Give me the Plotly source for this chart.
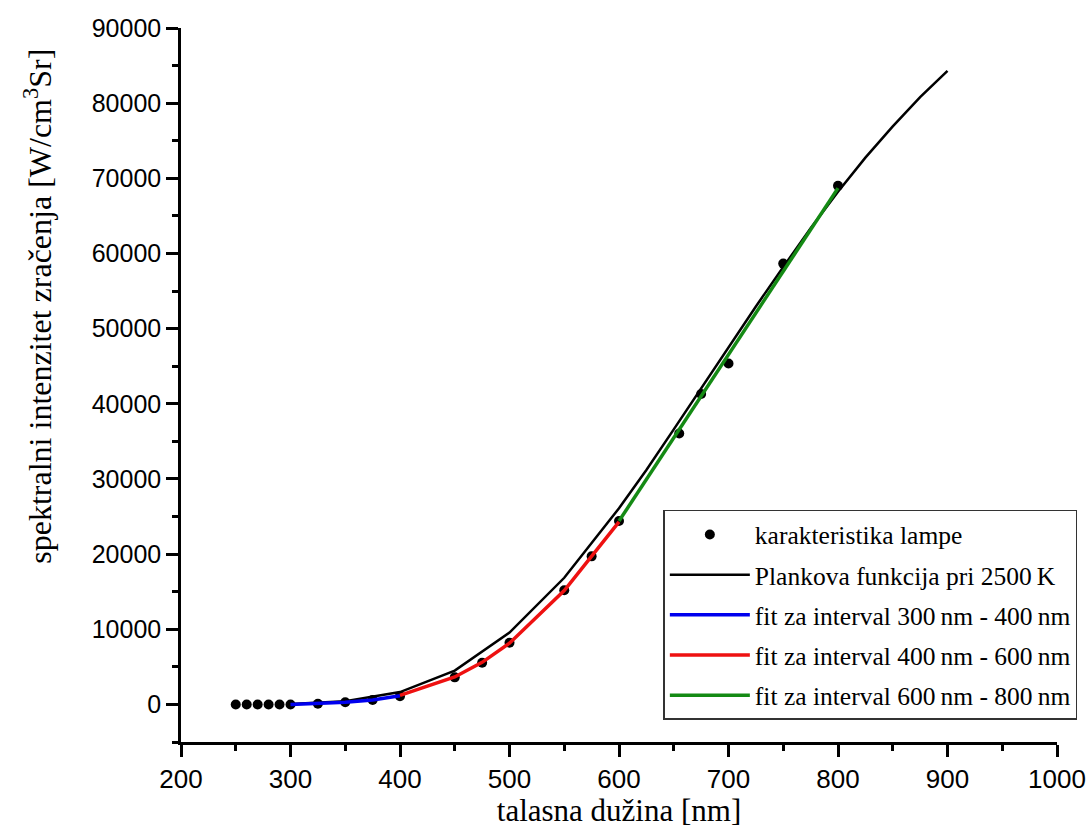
import plotly.graph_objects as go

# Measured lamp characteristic (points)
lamp_x = [250, 260, 270, 280, 290, 300, 325, 350, 375, 400, 450, 475, 500, 550, 575, 600, 655, 675, 700, 750, 800]
lamp_y = [0, 0, 0, 0, 0, 0, 100, 300, 600, 1100, 3600, 5550, 8200, 15200, 19700, 24400, 36050, 41300, 45350, 58650, 69000]

# Planck function at 2500 K
planck_x = [300, 350, 400, 450, 500, 550, 600, 625, 650, 675, 700, 725, 750, 775, 800, 825, 850, 875, 900]
planck_y = [60, 410, 1640, 4500, 9550, 16850, 26100, 31200, 36600, 42050, 47500, 52950, 58200, 63350, 68200, 72750, 76900, 80800, 84300]

# Fits
fit1_x = [300, 325, 350, 375, 400]
fit1_y = [0, 100, 300, 600, 1150]
fit2_x = [400, 450, 475, 500, 550, 575, 600]
fit2_y = [1200, 3650, 5600, 8150, 15150, 19650, 24300]
fit3_x = [600, 650, 700, 750, 800]
fit3_y = [24400, 35500, 46600, 57700, 68700]

serif = "Liberation Serif, Times New Roman, serif"
sans = "Liberation Sans, Arial, sans-serif"

fig = go.Figure()
fig.add_trace(go.Scatter(x=lamp_x, y=lamp_y, mode="markers", name="karakteristika lampe",
                         marker=dict(color="black", size=10), legendgroup="a"))
fig.add_trace(go.Scatter(x=planck_x, y=planck_y, mode="lines", name="Plankova funkcija pri 2500\u2009K",
                         line=dict(color="black", width=2.5), legendgroup="b"))
fig.add_trace(go.Scatter(x=fit1_x, y=fit1_y, mode="lines", name="fit za interval 300\u2009nm - 400\u2009nm",
                         line=dict(color="#0000ee", width=3.5), legendgroup="c"))
fig.add_trace(go.Scatter(x=fit2_x, y=fit2_y, mode="lines", name="fit za interval 400\u2009nm - 600\u2009nm",
                         line=dict(color="#ee1111", width=3.5), legendgroup="d"))
fig.add_trace(go.Scatter(x=fit3_x, y=fit3_y, mode="lines", name="fit za interval 600\u2009nm - 800\u2009nm",
                         line=dict(color="#148a14", width=3.5), legendgroup="e"))

fig.update_layout(
    width=1089, height=828,
    margin=dict(l=181, r=31, t=28, b=86),
    plot_bgcolor="white", paper_bgcolor="white",
    showlegend=True,
    legend=dict(
        x=0.550, y=0.325, xanchor="left", yanchor="top",
        bordercolor="#333", borderwidth=1.5, bgcolor="white",
        font=dict(family=serif, size=25.5, color="black"),
        itemwidth=80, traceorder="grouped", tracegroupgap=4,
    ),
    xaxis=dict(
        range=[200, 1000], tickmode="linear", tick0=200, dtick=100, automargin=False,
        showgrid=False, zeroline=False, showline=True, linecolor="black", linewidth=2.5,
        ticks="outside", ticklen=12, tickwidth=2.5, tickcolor="black",
        minor=dict(ticks="outside", ticklen=6, tickwidth=2.5, tickcolor="black", dtick=50, tick0=200),
        tickfont=dict(family=sans, size=26, color="black"),
        title=dict(text="talasna dužina [nm]", font=dict(family=serif, size=31, color="black"), standoff=0),
    ),
    yaxis=dict(
        range=[-5000, 90000], tickmode="linear", tick0=0, dtick=10000, automargin=False,
        showgrid=False, zeroline=False, showline=True, linecolor="black", linewidth=2.5,
        ticks="outside", ticklen=12, tickwidth=2.5, tickcolor="black",
        minor=dict(ticks="outside", ticklen=6, tickwidth=2.5, tickcolor="black", dtick=5000, tick0=-5000),
        tickfont=dict(family=sans, size=25, color="black"),
        tickformat="d",
    ),
    annotations=[dict(
        text="spektralni intenzitet zračenja [W/cm<sup>3</sup>Sr]",
        xref="paper", yref="paper", x=-0.163, y=0.61,
        xanchor="center", yanchor="middle", textangle=-90, showarrow=False,
        font=dict(family=serif, size=32, color="black"),
    )],
)

fig.write_html("out.html")
